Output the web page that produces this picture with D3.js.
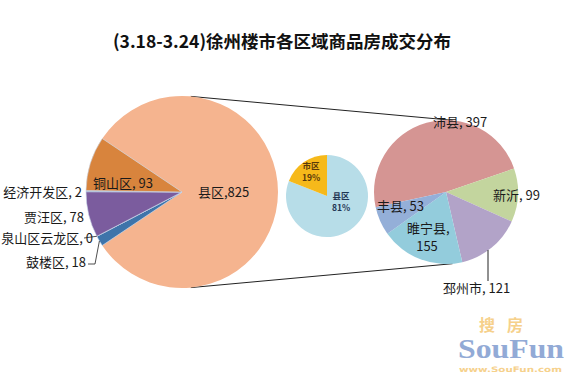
<!DOCTYPE html>
<html>
<head>
<meta charset="utf-8">
<script src="https://cdn.jsdelivr.net/npm/d3@7"></script>
<style>
  body { margin: 0; background: #fff; }
  text { font-family: "Noto Sans CJK SC", "Noto Sans", sans-serif; }
</style>
</head>
<body>
<svg id="chart"></svg>
<script>
// data
var title = "(3.18-3.24)徐州楼市各区域商品房成交分布";

var cityAreas = ["县区", "鼓楼区", "泉山区云龙区", "贾汪区", "经济开发区", "铜山区"];
var cityValues = [825, 18, 0, 78, 2, 93];
var cityColors = ["#F5B48F", "#3E74AA", "#8FA9D0", "#7B5C9E", "#8EA3C6", "#D8843D"];

var shareNames = ["县区", "市区"];
var sharePct = [81, 19];
var shareColors = ["#B7DDE8", "#F6B91A"];

var countyNames = ["沛县", "新沂", "邳州市", "睢宁县", "丰县"];
var countyValues = [397, 99, 121, 155, 53];
var countyColors = ["#D59593", "#C3D59E", "#B2A3C8", "#93CCDC", "#94AFD8"];

var W = 577, H = 382;
var svg = d3.select("#chart").attr("width", W).attr("height", H);
var deg = Math.PI / 180;

svg.append("text")
  .attr("x", 282).attr("y", 48)
  .attr("text-anchor", "middle")
  .attr("font-size", 17.5).attr("font-weight", "bold")
  .attr("fill", "#111")
  .text(title);

/** left pie: whole city, 县区 slice centred on the right */
var c1 = { x: 182, y: 192, r: 96 };
var c3 = { x: 446, y: 192, r: 72 };

// tangent lines joining left pie and right pie
var d = c3.x - c1.x;
var nx = (c1.r - c3.r) / d, ny = Math.sqrt(1 - nx * nx);
[-1, 1].forEach(function(s) {
  svg.append("line")
    .attr("x1", c1.x + c1.r * nx).attr("y1", c1.y + s * c1.r * ny)
    .attr("x2", c3.x + c3.r * nx).attr("y2", c3.y + s * c3.r * ny)
    .attr("stroke", "#222").attr("stroke-width", 1);
});

var cityTotal = d3.sum(cityValues);
var cityStart = Math.PI / 2 - Math.PI * cityValues[0] / cityTotal;
var pie1 = d3.pie().sort(null).startAngle(cityStart).endAngle(cityStart + 2 * Math.PI);
var arc1 = d3.arc().innerRadius(0).outerRadius(c1.r);
var g1 = svg.append("g").attr("transform", "translate(" + c1.x + "," + c1.y + ")");
var arcs1 = pie1(cityValues);
g1.selectAll("path").data(arcs1).enter().append("path")
  .attr("d", arc1)
  .attr("fill", function(d, i) { return cityColors[i]; })
  .attr("stroke", function(d, i) { return i == 0 ? "none" : "#c9d6ea"; })
  .attr("stroke-width", 0.6);

var fs = 13;
function label(x, y, txt, anchor) {
  svg.append("text").attr("x", x).attr("y", y)
    .attr("text-anchor", anchor || "start")
    .attr("font-size", fs).attr("fill", "#1a1a1a")
    .text(txt);
}
// labels of the left pie
label(198, 197, cityAreas[0] + "," + cityValues[0]);
label(93, 188, cityAreas[5] + ", " + cityValues[5]);
label(82, 197, cityAreas[4] + ", " + cityValues[4], "end");
label(84, 222, cityAreas[3] + ", " + cityValues[3], "end");
label(93, 243, cityAreas[2] + ", " + cityValues[2], "end");
label(86, 267, cityAreas[1] + ", " + cityValues[1], "end");

// leader lines for the small slices
var p2 = arc1.centroid(arcs1[2]).map(function(v) { return v * 2; });
svg.append("path")
  .attr("d", "M" + 84 + "," + 238 + "L" + (c1.x + p2[0]) + "," + (c1.y + p2[1]))
  .attr("fill", "none").attr("stroke", "#222").attr("stroke-width", 0.8);
var a1 = (arcs1[1].startAngle + arcs1[1].endAngle) / 2;
svg.append("path")
  .attr("d", "M88,264L95,264L" + (c1.x + c1.r * Math.sin(a1)) + "," + (c1.y - c1.r * Math.cos(a1)))
  .attr("fill", "none").attr("stroke", "#222").attr("stroke-width", 0.8);

/** middle pie: 市区 / 县区 share */
var c2 = { x: 327, y: 196, r: 41 };
var pie2 = d3.pie().sort(null);
var arc2 = d3.arc().innerRadius(0).outerRadius(c2.r);
var g2 = svg.append("g").attr("transform", "translate(" + c2.x + "," + c2.y + ")");
g2.selectAll("path").data(pie2(sharePct)).enter().append("path")
  .attr("d", arc2)
  .attr("fill", function(d, i) { return shareColors[i]; });

var shareLab = [[14, 3], [-16, -27]];
sharePct.forEach(function(v, i) {
  var t = g2.append("text")
    .attr("x", shareLab[i][0]).attr("y", shareLab[i][1])
    .attr("text-anchor", "middle")
    .attr("font-size", 8.5).attr("font-weight", "bold")
    .attr("fill", i == 0 ? "#1F3553" : "#5a3a0a");
  t.append("tspan").attr("x", shareLab[i][0]).text(shareNames[i]);
  t.append("tspan").attr("x", shareLab[i][0]).attr("dy", 12).text(v + "%");
});

/** right pie: counties */
var pie3 = d3.pie().sort(null).startAngle(-102.3 * deg).endAngle(257.7 * deg);
var arc3 = d3.arc().innerRadius(0).outerRadius(c3.r);
var g3 = svg.append("g").attr("transform", "translate(" + c3.x + "," + c3.y + ")");
g3.selectAll("path").data(pie3(countyValues)).enter().append("path")
  .attr("d", arc3)
  .attr("fill", function(d, i) { return countyColors[i]; });

label(433, 127, countyNames[0] + ", " + countyValues[0]);
label(493, 200, countyNames[1] + ", " + countyValues[1]);
label(443, 293, countyNames[2] + ", " + countyValues[2]);
label(377, 211, countyNames[4] + ", " + countyValues[4]);
label(407, 233, countyNames[3] + ",");
label(427, 251, countyValues[3], "middle");
svg.append("line")
  .attr("x1", 488).attr("y1", 250).attr("x2", 488).attr("y2", 281)
  .attr("stroke", "#222").attr("stroke-width", 1);

/** watermark */
var wm = svg.append("g").attr("opacity", 0.85);
wm.append("text").attr("x", 479).attr("y", 331)
  .attr("font-size", 16).attr("font-weight", "bold").attr("fill", "#F5C977")
  .attr("letter-spacing", 12).text("搜房");
wm.append("text").attr("x", 458).attr("y", 358)
  .style("font-family", "'Liberation Serif', serif").attr("font-size", 27)
  .attr("font-weight", "bold").attr("fill", "#7F9CCF")
  .attr("textLength", 106).attr("lengthAdjust", "spacingAndGlyphs").text("SouFun");
wm.append("text").attr("x", 459).attr("y", 372)
  .style("font-family", "'DejaVu Sans', sans-serif").attr("font-size", 7.5)
  .attr("font-weight", "bold").attr("fill", "#F5C977")
  .attr("textLength", 103).attr("lengthAdjust", "spacingAndGlyphs").text("www.SouFun.com");
</script>
</body>
</html>
